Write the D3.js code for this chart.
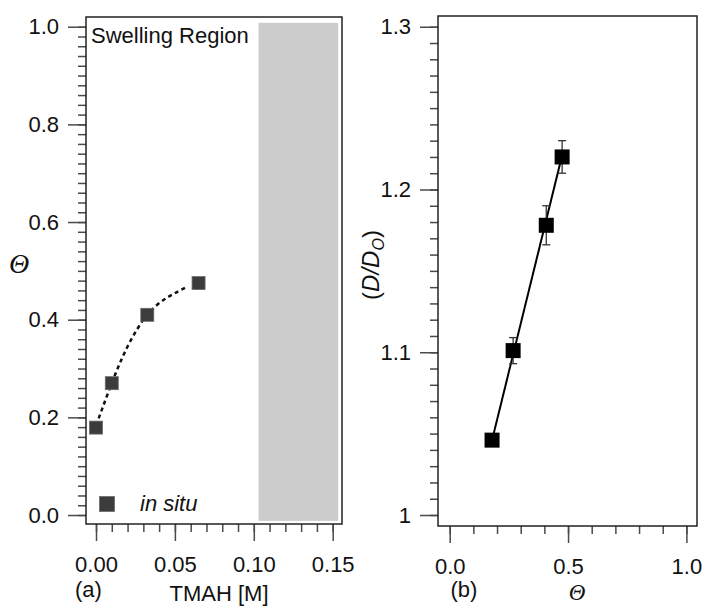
<!DOCTYPE html>
<html>
<head>
<meta charset="utf-8">
<script src="https://cdn.jsdelivr.net/npm/d3@7"></script>
<style>
  body { margin: 0; background: #fff; }
  svg { display: block; font-family: "Liberation Sans", Arial, sans-serif; }
  .tick text { font-size: 22px; fill: #111; }
</style>
</head>
<body>
<div id="chart"></div>
<script>
// panel (a): coverage vs TMAH concentration
const tmah = [0, 0.01, 0.0325, 0.065];
const thetaA = [0.179, 0.27, 0.41, 0.475];
// dashed guide curve
const guideX = [0.0017, 0.01, 0.02, 0.0325, 0.045, 0.0564];
const guideY = [0.198, 0.27, 0.345, 0.41, 0.445, 0.465];
const swellRegion = [0.103, 0.1535];

// panel (b): D/Do vs coverage
const thetaB = [0.179, 0.268, 0.408, 0.475];
const ratioB = [1.046, 1.101, 1.178, 1.22];
const errB = [0.003, 0.008, 0.012, 0.01];
const fitX = [0.179, 0.475];
const fitY = [1.046, 1.221];

const xTicksA = [0, 0.05, 0.10, 0.15];
const yTicksA = [0, 0.2, 0.4, 0.6, 0.8, 1.0];
const xTicksB = [0, 0.5, 1.0];
const yTicksB = [1.0, 1.1, 1.2, 1.3];

const W = 704, H = 606;
const svg = d3.select('#chart').append('svg')
  .attr('width', W).attr('height', H)
  .style('background', '#fff');

const tickColor = '#4a4a4a';

function styleAxis(g) {
  g.select('.domain').remove();
  g.selectAll('.tick line').attr('stroke', tickColor).attr('stroke-width', 1.5);
}

function drawAxes(x, y, box, opt) {
  // minor ticks first
  svg.append('g')
    .attr('transform', `translate(0,${box.bottom})`)
    .call(d3.axisBottom(x).tickValues(opt.xMinor).tickSize(8).tickFormat(''))
    .call(styleAxis);
  svg.append('g')
    .attr('transform', `translate(0,${box.bottom})`)
    .call(d3.axisBottom(x).tickValues(opt.xMajor).tickSize(17).tickPadding(15).tickFormat(opt.xFmt))
    .call(styleAxis);
  svg.append('g')
    .attr('transform', `translate(${box.left},0)`)
    .call(d3.axisLeft(y).tickValues(opt.yMinor).tickSize(8).tickFormat(''))
    .call(styleAxis);
  svg.append('g')
    .attr('transform', `translate(${box.left},0)`)
    .call(d3.axisLeft(y).tickValues(opt.yMajor).tickSize(18).tickPadding(9).tickFormat(opt.yFmt))
    .call(styleAxis);
}

function frame(box) {
  svg.append('rect')
    .attr('x', box.left).attr('y', box.top)
    .attr('width', box.right - box.left).attr('height', box.bottom - box.top)
    .attr('fill', 'none').attr('stroke', '#222').attr('stroke-width', 1.5);
}

// ---------- panel (a) ----------
const boxA = {left: 86, right: 342, top: 17, bottom: 524};
const xA = d3.scaleLinear().domain([-0.00634, 0.1559]).range([boxA.left, boxA.right]);
const yA = d3.scaleLinear().domain([-0.0184, 1.0199]).range([boxA.bottom, boxA.top]);

svg.append('rect')
  .attr('x', xA(swellRegion[0])).attr('y', yA(1.008))
  .attr('width', xA(swellRegion[1]) - xA(swellRegion[0]))
  .attr('height', yA(-0.012) - yA(1.008))
  .attr('fill', '#cccccc');

drawAxes(xA, yA, boxA, {
  xMinor: d3.range(0, 16).map(i => i / 100),
  xMajor: xTicksA,
  xFmt: d3.format('.2f'),
  yMinor: d3.range(0, 51).map(i => i / 50),
  yMajor: yTicksA,
  yFmt: d3.format('.1f')
});
frame(boxA);

const guide = d3.line().curve(d3.curveNatural)
  .x(d => xA(d[0])).y(d => yA(d[1]));
svg.append('path')
  .datum(guideX.map((v, i) => [v, guideY[i]]))
  .attr('d', guide)
  .attr('fill', 'none').attr('stroke', '#111')
  .attr('stroke-width', 2.5).attr('stroke-dasharray', '4,3.5');

const sA = 13;
svg.append('g').selectAll('rect')
  .data(tmah.map((v, i) => [v, thetaA[i]]))
  .join('rect')
  .attr('x', d => xA(d[0]) - sA / 2).attr('y', d => yA(d[1]) - sA / 2)
  .attr('width', sA).attr('height', sA)
  .attr('fill', '#3c3c3c').attr('stroke', '#6a6a6a').attr('stroke-width', 0.8);

svg.append('text').attr('x', 91).attr('y', 43)
  .attr('font-size', 22).attr('fill', '#111').text('Swelling Region');

// legend
svg.append('rect').attr('x', 99.5).attr('y', 496.5).attr('width', 15).attr('height', 15)
  .attr('fill', '#3c3c3c').attr('stroke', '#6a6a6a').attr('stroke-width', 0.8);
svg.append('text').attr('x', 140).attr('y', 511)
  .attr('font-size', 22).attr('font-style', 'italic').attr('fill', '#111').text('in situ');

svg.append('text').attr('x', 75).attr('y', 597)
  .attr('font-size', 22).attr('fill', '#111').text('(a)');
svg.append('text').attr('x', 219).attr('y', 601).attr('text-anchor', 'middle')
  .attr('font-size', 22).attr('fill', '#111').text('TMAH [M]');
svg.append('text').attr('x', 19).attr('y', 273).attr('text-anchor', 'middle')
  .attr('font-family', '"Liberation Serif", "DejaVu Serif", serif')
  .attr('font-style', 'italic').attr('font-size', 28).attr('fill', '#111').text('Θ');

// ---------- panel (b) ----------
const boxB = {left: 438, right: 697, top: 16, bottom: 526};
const xB = d3.scaleLinear().domain([-0.0494, 1.0448]).range([boxB.left, boxB.right]);
const yB = d3.scaleLinear().domain([0.99324, 1.3066]).range([boxB.bottom, boxB.top]);

drawAxes(xB, yB, boxB, {
  xMinor: d3.range(0, 11).map(i => i / 10),
  xMajor: xTicksB,
  xFmt: d3.format('.1f'),
  yMinor: d3.range(0, 31).map(i => 1 + i / 100),
  yMajor: yTicksB,
  yFmt: d => d === 1 ? '1' : d3.format('.1f')(d)
});
frame(boxB);

svg.append('path')
  .datum(fitX.map((v, i) => [v, fitY[i]]))
  .attr('d', d3.line().x(d => xB(d[0])).y(d => yB(d[1])))
  .attr('fill', 'none').attr('stroke', '#000').attr('stroke-width', 2);

const ptsB = thetaB.map((v, i) => ({x: v, y: ratioB[i], e: errB[i]}));
const eb = svg.append('g').attr('stroke', '#333').attr('stroke-width', 1.3);
ptsB.forEach(p => {
  const cx = xB(p.x);
  eb.append('line').attr('x1', cx).attr('x2', cx)
    .attr('y1', yB(p.y - p.e)).attr('y2', yB(p.y + p.e));
  [p.y - p.e, p.y + p.e].forEach(v => {
    eb.append('line').attr('x1', cx - 4).attr('x2', cx + 4)
      .attr('y1', yB(v)).attr('y2', yB(v));
  });
});

const sB = 15;
svg.append('g').selectAll('rect')
  .data(ptsB)
  .join('rect')
  .attr('x', d => xB(d.x) - sB / 2).attr('y', d => yB(d.y) - sB / 2)
  .attr('width', sB).attr('height', sB)
  .attr('fill', '#000');

svg.append('text').attr('x', 464).attr('y', 597).attr('text-anchor', 'middle')
  .attr('font-size', 22).attr('fill', '#111').text('(b)');
svg.append('text').attr('x', 577).attr('y', 600).attr('text-anchor', 'middle')
  .attr('font-family', '"Liberation Serif", "DejaVu Serif", serif')
  .attr('font-style', 'italic').attr('font-size', 23).attr('fill', '#111').text('Θ');

const yl = svg.append('text')
  .attr('transform', 'translate(379,265) rotate(-90)')
  .attr('text-anchor', 'middle').attr('font-size', 24).attr('fill', '#111');
yl.append('tspan').text('(');
yl.append('tspan').attr('font-style', 'italic').text('D/D');
yl.append('tspan').attr('font-style', 'italic').attr('font-size', 16).attr('dy', 5).text('O');
yl.append('tspan').attr('dy', -5).text(')');
</script>
</body>
</html>
